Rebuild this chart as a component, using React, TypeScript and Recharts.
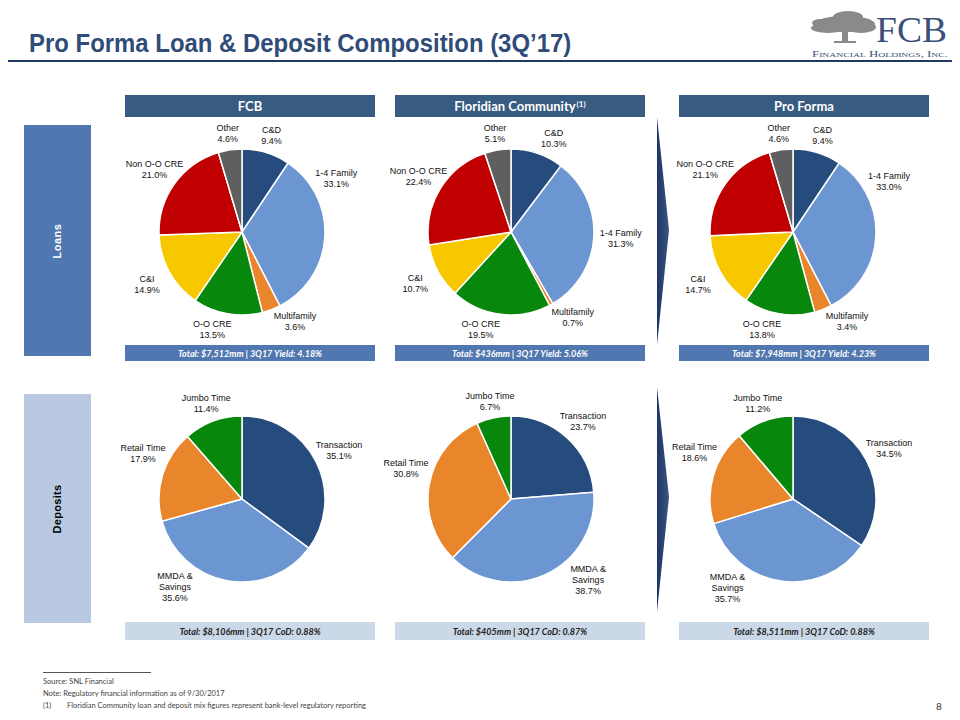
import React from "react";
import { Cell, Pie, PieChart } from "recharts";

const COLUMN_TITLES = ["FCB", "Floridian Community", "Pro Forma"];

const LOAN_CATEGORIES = ["C&D", "1-4 Family", "Multifamily", "O-O CRE", "C&I", "Non O-O CRE", "Other"];
const FCB_LOANS = [9.4, 33.1, 3.6, 13.5, 14.9, 21.0, 4.6];
const FLORIDIAN_LOANS = [10.3, 31.3, 0.7, 19.5, 10.7, 22.4, 5.1];
const PRO_FORMA_LOANS = [9.4, 33.0, 3.4, 13.8, 14.7, 21.1, 4.6];

const DEPOSIT_CATEGORIES = ["Transaction", "MMDA & Savings", "Retail Time", "Jumbo Time"];
const FCB_DEPOSITS = [35.1, 35.6, 17.9, 11.4];
const FLORIDIAN_DEPOSITS = [23.7, 38.7, 30.8, 6.7];
const PRO_FORMA_DEPOSITS = [34.5, 35.7, 18.6, 11.2];

const LOAN_TOTALS = [
  "Total: $7,512mm | 3Q17 Yield: 4.18%",
  "Total: $436mm | 3Q17 Yield: 5.06%",
  "Total: $7,948mm | 3Q17 Yield: 4.23%"
];
const DEPOSIT_TOTALS = [
  "Total: $8,106mm | 3Q17 CoD: 0.88%",
  "Total: $405mm | 3Q17 CoD: 0.87%",
  "Total: $8,511mm | 3Q17 CoD: 0.88%"
];

const LOAN_COLORS = ["#264b7d", "#6b96d1", "#e9852a", "#07870c", "#f7c700", "#c00000", "#5f5f5f"];
const DEPOSIT_COLORS = ["#264b7d", "#6b96d1", "#e9852a", "#07870c"];

// layout
const COL_X = [242, 511, 793];
const BAR_X = [125, 395, 679];
const LOAN_CY = 232;
const DEPOSIT_CY = 499;
const RADIUS = 83;

// excel "best fit" moved a few labels off the slice midline (degrees, clockwise)
const LABEL_NUDGE: Record<string, Record<string, number>> = {
  "loans-0": { "1-4 Family": -33, Multifamily: -10, "O-O CRE": 7 },
  "loans-1": { "C&D": 6, Multifamily: -7, "O-O CRE": 10 },
  "loans-2": { "1-4 Family": -31, Multifamily: -10, "O-O CRE": 8 },
  "deposits-0": { "MMDA & Savings": 27, "Retail Time": 8 },
  "deposits-1": { "MMDA & Savings": -19, "Retail Time": 6 },
  "deposits-2": { "MMDA & Savings": 28, "Retail Time": 9 }
};

function toRows(categories: string[], values: number[]) {
  return categories.map((name, i) => ({ name, value: values[i] }));
}

function makeLabel(cx: number, cy: number, nudges: Record<string, number>) {
  return (props: any) => {
    const name: string = props.name ?? props.payload?.name;
    const value: number = props.value ?? props.payload?.value;
    const theta = 90 - props.midAngle + (nudges[name] ?? 0);
    const rad = (theta * Math.PI) / 180;
    const lines = [...name.replace("& ", "&\n").split("\n"), `${value.toFixed(1)}%`];
    const dist = props.outerRadius + 15 + 12 * Math.abs(Math.sin(rad)) + (lines.length - 2) * 5;
    const x = cx + dist * Math.sin(rad);
    const y = cy - dist * Math.cos(rad);
    const top = y - ((lines.length - 1) * 11) / 2 + 3.3;
    return (
      <text x={x} y={top} textAnchor="middle" fontSize={9} fontFamily="'Liberation Sans', Arial" fill="#111">
        {lines.map((line, i) => (
          <tspan key={i} x={x} y={top + i * 11}>
            {line}
          </tspan>
        ))}
      </text>
    );
  };
}

const loanSets = [FCB_LOANS, FLORIDIAN_LOANS, PRO_FORMA_LOANS];
const depositSets = [FCB_DEPOSITS, FLORIDIAN_DEPOSITS, PRO_FORMA_DEPOSITS];

const abs = (left: number, top: number, width: number, height: number): React.CSSProperties => ({
  position: "absolute",
  left,
  top,
  width,
  height
});

export default function App() {
  return (
    <div style={{ position: "relative", width: 960, height: 720, margin: -8, background: "#fff", overflow: "hidden" }}>
      <div
        style={{
          position: "absolute",
          left: 29,
          top: 30,
          fontFamily: "'Liberation Sans', Arial",
          fontWeight: 700,
          fontSize: 26,
          lineHeight: "26px",
          color: "#2f4c78",
          whiteSpace: "nowrap",
          transform: "scaleX(0.92)",
          transformOrigin: "0 0"
        }}
      >
        Pro Forma Loan &amp; Deposit Composition (3Q’17)
      </div>
      <div style={{ ...abs(8, 60, 945, 2), background: "#1f3864" }} />

      {/* logo */}
      <svg style={abs(800, 0, 160, 59)} viewBox="800 0 160 59">
        <g fill="#8a8a8a">
          <ellipse cx="845" cy="24" rx="30" ry="8" />
          <ellipse cx="828" cy="28" rx="17" ry="5" />
          <ellipse cx="861" cy="27" rx="15" ry="6" />
          <ellipse cx="848" cy="17" rx="15" ry="6" />
          <ellipse cx="820" cy="23" rx="8" ry="4" />
          <rect x="842" y="27" width="6" height="15" />
          <rect x="834" y="41" width="22" height="2" />
        </g>
        <text x="876" y="42" fontFamily="'Liberation Serif', serif" fontSize="36" fill="#3b5078" textLength="71" lengthAdjust="spacingAndGlyphs">
          FCB
        </text>
        <text
          x="812"
          y="57"
          fontFamily="'Liberation Serif', serif"
          fontSize="8"
          fill="#3b5078"
          style={{ fontVariant: "small-caps" }}
          textLength="136"
          lengthAdjust="spacingAndGlyphs"
        >
          Financial Holdings, Inc.
        </text>
      </svg>

      {/* row tabs */}
      <div style={{ ...abs(24, 125, 67, 231), background: "#5077b0", display: "flex", alignItems: "center", justifyContent: "center" }}>
        <span style={{ transform: "rotate(-90deg)", color: "#fff", fontFamily: "'Liberation Sans', Arial", fontWeight: 700, fontSize: 11, letterSpacing: 0.5 }}>
          Loans
        </span>
      </div>
      <div style={{ ...abs(24, 394, 67, 229), background: "#b8c9e1", display: "flex", alignItems: "center", justifyContent: "center" }}>
        <span style={{ transform: "rotate(-90deg)", color: "#000", fontFamily: "'Liberation Sans', Arial", fontWeight: 700, fontSize: 11, letterSpacing: 0.3 }}>
          Deposits
        </span>
      </div>

      {/* column headers and totals */}
      {COLUMN_TITLES.map((title, i) => (
        <div
          key={title}
          style={{
            ...abs(BAR_X[i], 95, 250, 22),
            background: "#385b82",
            color: "#fff",
            fontFamily: "Lato, 'Open Sans', sans-serif",
            fontWeight: 700,
            fontSize: 13,
            display: "flex",
            alignItems: "center",
            justifyContent: "center"
          }}
        >
          {title}
          {i === 1 && <sup style={{ fontSize: 8, marginLeft: 1, position: "relative", top: -2 }}>(1)</sup>}
        </div>
      ))}
      {LOAN_TOTALS.map((t, i) => (
        <div
          key={t}
          style={{
            ...abs(BAR_X[i], 345, 250, 16),
            background: "#5077b0",
            color: "#fff",
            fontFamily: "Lato, 'Open Sans', sans-serif",
            fontWeight: 700,
            fontStyle: "italic",
            fontSize: 9,
            display: "flex",
            alignItems: "center",
            justifyContent: "center",
            whiteSpace: "pre"
          }}
        >
          {t}
        </div>
      ))}
      {DEPOSIT_TOTALS.map((t, i) => (
        <div
          key={t}
          style={{
            ...abs(BAR_X[i], 622, 250, 18),
            background: "#cbd8e8",
            color: "#222",
            fontFamily: "Lato, 'Open Sans', sans-serif",
            fontWeight: 700,
            fontStyle: "italic",
            fontSize: 9,
            display: "flex",
            alignItems: "center",
            justifyContent: "center",
            whiteSpace: "pre"
          }}
        >
          {t}
        </div>
      ))}

      {/* arrows */}
      <svg style={abs(650, 110, 30, 510)} viewBox="650 110 30 510">
        <defs>
          <linearGradient id="arrowFill" x1="0" y1="0" x2="1" y2="0">
            <stop offset="0%" stopColor="#1d3566" />
            <stop offset="100%" stopColor="#3a5680" />
          </linearGradient>
        </defs>
        <polygon points="657,117 669,230 657,345" fill="url(#arrowFill)" />
        <polygon points="657,387 669,497 657,612" fill="url(#arrowFill)" />
      </svg>

      <div style={{ position: "absolute", left: 0, top: 0 }}>
        <PieChart width={960} height={720} margin={{ top: 0, right: 0, bottom: 0, left: 0 }}>
          {loanSets.map((values, i) => (
            <Pie
              key={`loans-${i}`}
              data={toRows(LOAN_CATEGORIES, values)}
              dataKey="value"
              nameKey="name"
              cx={COL_X[i]}
              cy={LOAN_CY}
              outerRadius={RADIUS}
              startAngle={90}
              endAngle={-270}
              stroke="#fff"
              strokeWidth={1.5}
              labelLine={false}
              label={makeLabel(COL_X[i], LOAN_CY, LABEL_NUDGE[`loans-${i}`])}
              isAnimationActive={false}
            >
              {LOAN_CATEGORIES.map((c, j) => (
                <Cell key={c} fill={LOAN_COLORS[j]} />
              ))}
            </Pie>
          ))}
          {depositSets.map((values, i) => (
            <Pie
              key={`deposits-${i}`}
              data={toRows(DEPOSIT_CATEGORIES, values)}
              dataKey="value"
              nameKey="name"
              cx={COL_X[i]}
              cy={DEPOSIT_CY}
              outerRadius={RADIUS}
              startAngle={90}
              endAngle={-270}
              stroke="#fff"
              strokeWidth={1.5}
              labelLine={false}
              label={makeLabel(COL_X[i], DEPOSIT_CY, LABEL_NUDGE[`deposits-${i}`])}
              isAnimationActive={false}
            >
              {DEPOSIT_CATEGORIES.map((c, j) => (
                <Cell key={c} fill={DEPOSIT_COLORS[j]} />
              ))}
            </Pie>
          ))}
        </PieChart>
      </div>

      {/* footnotes */}
      <div style={{ ...abs(43, 672, 108, 1), background: "#555" }} />
      <div style={{ position: "absolute", left: 43, top: 676, fontFamily: "Lato, 'Open Sans', sans-serif", fontSize: 7.5, color: "#444", lineHeight: "12px" }}>
        <div>Source: SNL Financial</div>
        <div>Note: Regulatory financial information as of 9/30/2017</div>
        <div>
          <span style={{ display: "inline-block", width: 24 }}>(1)</span>Floridian Community loan and deposit mix figures represent bank-level regulatory reporting
        </div>
      </div>
      <div style={{ position: "absolute", left: 936, top: 700, fontFamily: "Lato, sans-serif", fontSize: 10, color: "#333" }}>8</div>
    </div>
  );
}
